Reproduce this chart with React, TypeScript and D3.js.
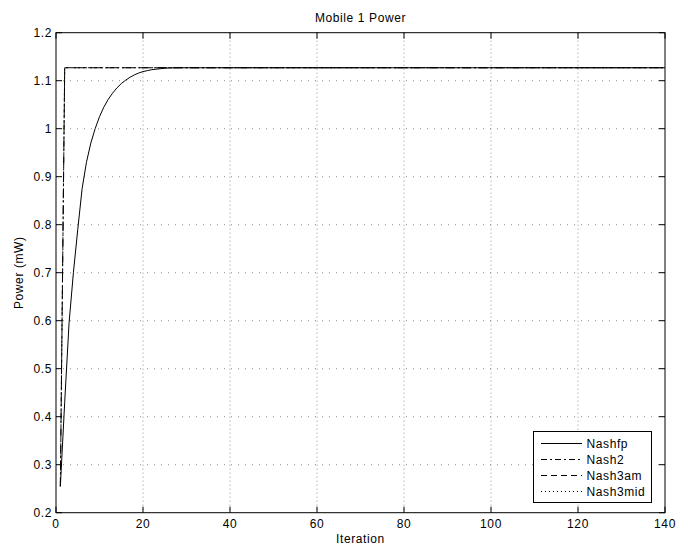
import React from "react";
import * as d3 from "d3";

const xTicks = [0, 20, 40, 60, 80, 100, 120, 140];
const yTicks = [0.2, 0.3, 0.4, 0.5, 0.6, 0.7, 0.8, 0.9, 1, 1.1, 1.2];
const yTickLabels = ["0.2", "0.3", "0.4", "0.5", "0.6", "0.7", "0.8", "0.9", "1", "1.1", "1.2"];

const nashfpIter = [1, 2, 3, 4, 5, 6, 7, 8, 9, 10, 11, 12, 13, 14, 15, 16, 17, 18, 19, 20, 21, 22, 23, 24, 25, 26, 28, 30, 140];
const nashfpPower = [0.255, 0.43, 0.595, 0.7, 0.79, 0.875, 0.93, 0.97, 1.0, 1.025, 1.045, 1.061, 1.074, 1.085, 1.094, 1.101, 1.107, 1.112, 1.116, 1.119, 1.121, 1.123, 1.124, 1.125, 1.126, 1.1265, 1.127, 1.127, 1.127];

const nash2Iter = [1, 2, 140];
const nash2Power = [0.255, 1.127, 1.127];
const nash3amIter = [1, 2, 140];
const nash3amPower = [0.255, 1.127, 1.127];
const nash3midIter = [1, 2, 140];
const nash3midPower = [0.255, 1.127, 1.127];

const legendNames = ["Nashfp", "Nash2", "Nash3am", "Nash3mid"];

const W = 694, H = 546;
const L = 56, R = 665, T = 32.7, B = 512.7;
const FONT = "'Liberation Sans', Arial, Helvetica, sans-serif";
const FS = 12;
const LS = 0.6;

export default function App() {
  const x = d3.scaleLinear().domain([0, 140]).range([L, R]);
  const y = d3.scaleLinear().domain([0.2, 1.2]).range([B, T]);
  const line = (xs: number[], ys: number[]) =>
    d3.line<number>().x((_, i) => x(xs[i])).y((d) => y(d))(ys) || "";

  const legendDash = [undefined, "6,3,2,3", "6,4", "1,3"];

  return (
    <svg width={W} height={H} style={{ display: "block", position: "absolute", left: 0, top: 0 }} fontFamily={FONT} fontSize={FS} letterSpacing={LS}>
      <rect x={0} y={0} width={W} height={H} fill="#fff" />
      {/* grid */}
      {xTicks.slice(1, -1).map((t) => (
        <line key={"gx" + t} x1={x(t)} x2={x(t)} y1={T} y2={B} stroke="#444" strokeWidth={0.6} strokeDasharray="1,3" />
      ))}
      {yTicks.slice(1, -1).map((t) => (
        <line key={"gy" + t} x1={L} x2={R} y1={y(t)} y2={y(t)} stroke="#444" strokeWidth={0.6} strokeDasharray="1,6" />
      ))}
      {/* series */}
      <path d={line(nashfpIter, nashfpPower)} fill="none" stroke="#000" strokeWidth={1} />
      <path d={line(nash2Iter, nash2Power)} fill="none" stroke="#000" strokeWidth={1} strokeDasharray="9,3,2,3" />
      <path d={line(nash3amIter, nash3amPower)} fill="none" stroke="#000" strokeWidth={1} strokeDasharray="9,7" />
      <path d={line(nash3midIter, nash3midPower)} fill="none" stroke="#000" strokeWidth={1} strokeDasharray="2,14" strokeDashoffset={-12} />
      {/* axes box */}
      <rect x={L} y={T} width={R - L} height={B - T} fill="none" stroke="#000" strokeWidth={1} />
      {xTicks.map((t) => (
        <g key={"xt" + t}>
          <line x1={x(t)} x2={x(t)} y1={B} y2={B - 6} stroke="#000" />
          <line x1={x(t)} x2={x(t)} y1={T} y2={T + 6} stroke="#000" />
          <text x={x(t)} y={528} textAnchor="middle" fill="#000">{t}</text>
        </g>
      ))}
      {yTicks.map((t, i) => (
        <g key={"yt" + t}>
          <line x1={L} x2={L + 6} y1={y(t)} y2={y(t)} stroke="#000" />
          <line x1={R} x2={R - 6} y1={y(t)} y2={y(t)} stroke="#000" />
          <text x={52} y={y(t) + 4.3} textAnchor="end" fill="#000">{yTickLabels[i]}</text>
        </g>
      ))}
      <text x={(L + R) / 2} y={21.5} textAnchor="middle" fill="#000">Mobile 1 Power</text>
      <text x={(L + R) / 2} y={542.5} textAnchor="middle" fill="#000">Iteration</text>
      <text transform={`translate(23,${(T + B) / 2}) rotate(-90)`} textAnchor="middle" fill="#000">Power (mW)</text>
      {/* legend */}
      <rect x={533.5} y={431.5} width={118} height={71} fill="#fff" stroke="#000" strokeWidth={1} />
      {legendNames.map((n, i) => {
        const ly = 443.5 + i * 16;
        return (
          <g key={n}>
            <line x1={541} x2={582} y1={ly} y2={ly} stroke="#000" strokeWidth={1} strokeDasharray={legendDash[i]} />
            <text x={586.5} y={ly + 4.3} fill="#000">{n}</text>
          </g>
        );
      })}
    </svg>
  );
}
